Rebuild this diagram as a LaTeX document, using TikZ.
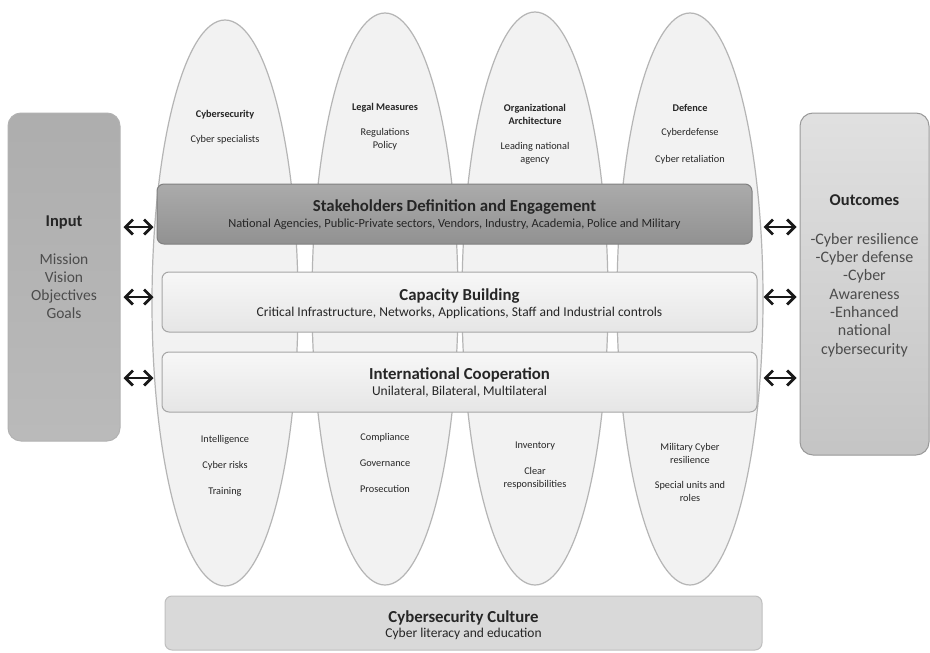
\documentclass[tikz,border=0pt]{standalone}
\usepackage{fontspec}
\setmainfont{Carlito}
\usetikzlibrary{shapes.geometric,arrows.meta}
\definecolor{ellfill}{HTML}{F2F2F2}
\definecolor{elldraw}{HTML}{B5B5B5}
\definecolor{txt}{HTML}{262626}
\begin{document}
\begin{tikzpicture}[x=1pt,y=-1pt,
  pillar/.style={ellipse,draw=elldraw,fill=ellfill,line width=1.2pt,minimum width=146pt,inner sep=0pt},
  small/.style={font=\fontsize{10.3}{13}\selectfont,text=txt,align=center,inner sep=0pt},
  smallb/.style={small,font=\fontsize{10.3}{13}\selectfont\bfseries},
  bar/.style={rectangle,rounded corners=7pt,minimum width=595pt,minimum height=60pt,line width=1pt,inner sep=0pt},
  bartitle/.style={font=\fontsize{16.8}{19}\selectfont\bfseries,text=txt,inner sep=0pt},
  barsub/.style={font=\fontsize{13.5}{15}\selectfont,text=txt,inner sep=0pt},
  side/.style={rectangle,rounded corners=13pt,line width=1pt,inner sep=0pt},
  dbl/.style={{Straight Barb[length=7.5pt,width=15pt]}-{Straight Barb[length=7.5pt,width=15pt]},line width=2.8pt,black!90},
]
\useasboundingbox[fill=white] (0,0) rectangle (930,653);

% pillars
\node[pillar,minimum height=566pt] (e1) at (225,303) {};
\node[pillar,minimum height=572pt] (e2) at (385,299) {};
\node[pillar,minimum height=573pt] (e3) at (535,298.5) {};
\node[pillar,minimum height=572pt] (e4) at (690,299) {};

% pillar texts (top)
\node[smallb] (e1a) at (225,115) {Cybersecurity};
\node[small]  (e1b) at (225,140) {Cyber specialists};
\node[smallb] (e2a) at (385,108) {Legal Measures};
\node[small]  (e2b) at (385,139.5) {Regulations\\Policy};
\node[smallb] (e3a) at (535,114.5) {Organizational\\Architecture};
\node[small]  (e3b) at (535,153) {Leading national\\agency};
\node[smallb] (e4a) at (690,108) {Defence};
\node[small]  (e4b) at (690,133) {Cyberdefense};
\node[small]  (e4c) at (690,160) {Cyber retaliation};
% pillar texts (bottom)
\node[small] (e1c) at (225,440) {Intelligence};
\node[small] (e1d) at (225,466) {Cyber risks};
\node[small] (e1e) at (225,492) {Training};
\node[small] (e2c) at (385,438) {Compliance};
\node[small] (e2d) at (385,463) {Governance};
\node[small] (e2e) at (385,489) {Prosecution};
\node[small] (e3c) at (535,446) {Inventory};
\node[small] (e3d) at (535,478.5) {Clear\\responsibilities};
\node[small] (e4d) at (690,453) {Military Cyber\\resilience};
\node[small] (e4e) at (690,491.5) {Special units and\\roles};

% bars
\node[bar,draw=black!50,top color=black!33,bottom color=black!43] (stake) at (454.5,214) {};
\node[bartitle] (stakeT) at ([yshift=6.5pt]stake.center) {Stakeholders Definition and Engagement};
\node[barsub,font=\fontsize{12.4}{14}\selectfont] (stakeS) at ([yshift=-10pt]stake.center) {National Agencies, Public-Private sectors, Vendors, Industry, Academia, Police and Military};

\node[bar,draw=black!35,top color=black!3,bottom color=black!10] (cap) at (459.5,302) {};
\node[bartitle] (capT) at ([yshift=6pt]cap.center) {Capacity Building};
\node[barsub] (capS) at ([yshift=-10.5pt]cap.center) {Critical Infrastructure, Networks, Applications, Staff and Industrial controls};

\node[bar,draw=black!35,top color=black!3,bottom color=black!10] (intl) at (459.5,382) {};
\node[bartitle] (intlT) at ([yshift=7pt]intl.center) {International Cooperation};
\node[barsub] (intlS) at ([yshift=-10pt]intl.center) {Unilateral, Bilateral, Multilateral};

\node[bar,minimum width=597pt,minimum height=54pt,draw=black!25,fill=black!15] (cult) at (463.5,623) {};
\node[bartitle] (cultT) at ([yshift=5pt]cult.center) {Cybersecurity Culture};
\node[barsub] (cultS) at ([yshift=-11pt]cult.center) {Cyber literacy and education};

% side boxes
\node[side,minimum width=112pt,minimum height=328pt,draw=black!30,top color=black!32,bottom color=black!27] (input) at (64,277) {};
\node[font=\fontsize{16.5}{19}\selectfont\bfseries,text=txt] (inT) at (64,222) {Input};
\node[font=\fontsize{15.5}{18}\selectfont,text=black!70,align=center] (inL) at (64,286) {Mission\\Vision\\Objectives\\Goals};

\node[side,minimum width=129pt,minimum height=342pt,draw=black!40,top color=black!12,bottom color=black!23] (out) at (864.5,284) {};
\node[font=\fontsize{16.5}{19}\selectfont\bfseries,text=txt] (outT) at (864.5,200) {Outcomes};
\node[font=\fontsize{16}{18.3}\selectfont,text=black!70,align=center] (outL) at (864.5,295)
  {-Cyber resilience\\-Cyber defense\\-Cyber\\Awareness\\-Enhanced\\national\\cybersecurity};

% arrow levels
\coordinate (y1) at (0,227);
\coordinate (y2) at (0,297);
\coordinate (y3) at (0,378);
\draw[dbl] ([xshift=3pt]input.east |- y1) -- ([xshift=-3pt]stake.west |- y1);
\draw[dbl] ([xshift=3pt]input.east |- y2) -- ([xshift=-8pt]cap.west |- y2);
\draw[dbl] ([xshift=3pt]input.east |- y3) -- ([xshift=-8pt]intl.west |- y3);
\draw[dbl] ([xshift=11pt]stake.east |- y1) -- ([xshift=-3pt]out.west |- y1);
\draw[dbl] ([xshift=6pt]cap.east |- y2) -- ([xshift=-3pt]out.west |- y2);
\draw[dbl] ([xshift=6pt]intl.east |- y3) -- ([xshift=-3pt]out.west |- y3);
\end{tikzpicture}
\end{document}
